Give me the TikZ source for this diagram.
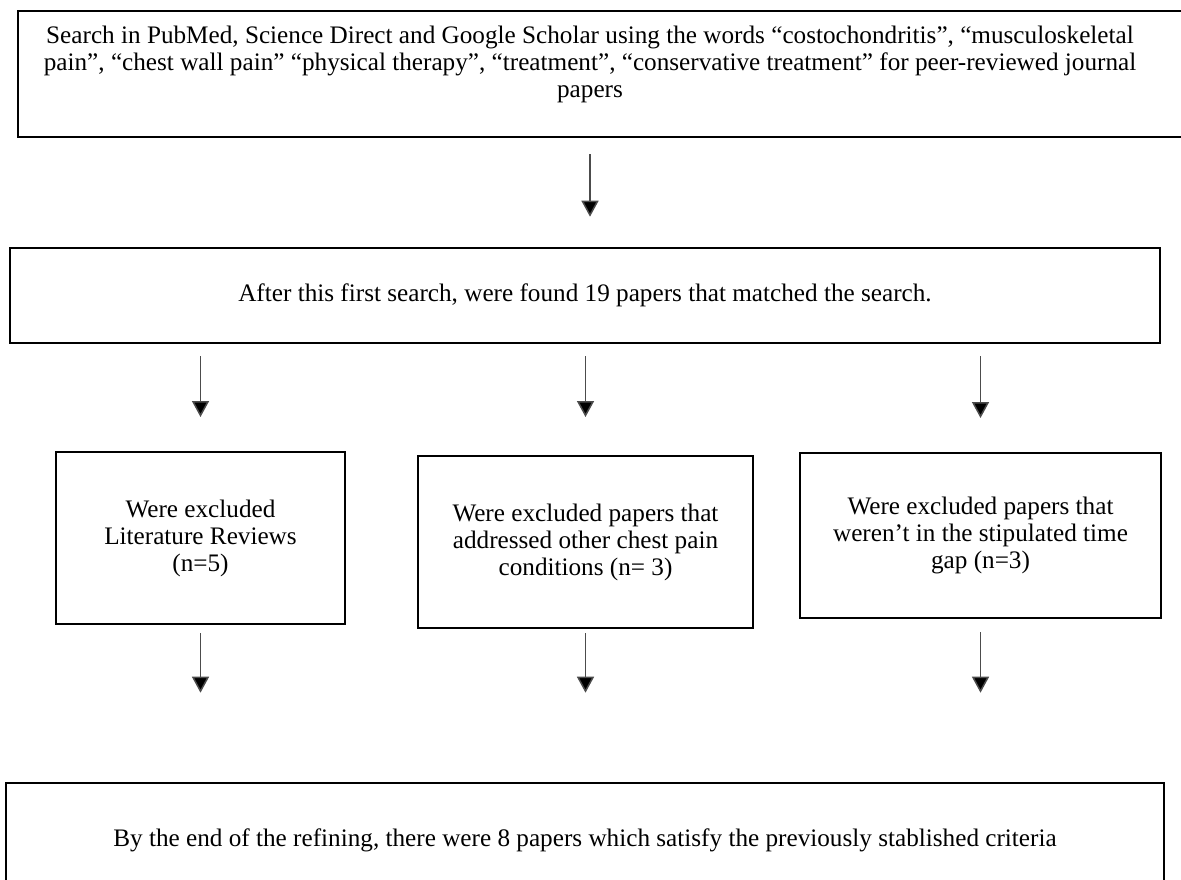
\documentclass[tikz,border=0pt]{standalone}
\usepackage{fontspec}
\setmainfont{Liberation Serif}
\usetikzlibrary{arrows.meta}

\tikzset{
  frame/.style={draw, line width=1.3pt, inner sep=0pt},
  stage/.style={draw, line width=1pt, align=center, inner sep=0pt},
  flow/.style={draw=black!70, line width=0.75pt,
    -{Triangle[width=8.5pt,length=8pt,fill=black]}},
}

\begin{document}
\begin{tikzpicture}[x=0.5pt, y=-0.5pt,
    every node/.style={font=\fontsize{12.6pt}{13.5pt}\selectfont}]
  \useasboundingbox (0,0) rectangle (1181,879);
  \clip (0,0) rectangle (1181,879);

  % search
  \node[frame, minimum width=601pt, minimum height=63pt] (searchbox) at (619,74) {};
  \node[align=center] (search) at (590,64.5)
    {Search in PubMed, Science Direct and Google Scholar using the words “costochondritis”, “musculoskeletal\\
     pain”, “chest wall pain” “physical therapy”, “treatment”, “conservative treatment” for peer-reviewed journal\\
     papers};

  % first result
  \node[stage, line width=1.3pt, minimum width=575pt, minimum height=47.5pt] (found) at (585,295.5)
    {After this first search, were found 19 papers that matched the search.};

  % exclusions
  \node[stage, minimum width=144.5pt, minimum height=86pt] (lexc) at (200.5,538)
    {Were excluded\\ Literature Reviews\\ (n=5)};
  \node[stage, minimum width=167.5pt, minimum height=86pt] (mexc) at (585.5,542)
    {Were excluded papers that\\ addressed other chest pain\\ conditions (n= 3)};
  \node[stage, minimum width=180.5pt, minimum height=82.5pt] (rexc) at (980.5,535.5)
    {Were excluded papers that\\ weren’t in the stipulated time\\ gap (n=3)};

  % final
  \node[stage, line width=1.3pt, minimum width=579pt, minimum height=57pt] (final) at (585,840)
    {By the end of the refining, there were 8 papers which satisfy the previously stablished criteria};

  % arrows
  \draw[flow, shorten <=8pt, shorten >=15pt] (search |- searchbox.south) -- (search |- found.north);

  \draw[flow, shorten <=6pt, shorten >=17pt] (lexc.north |- found.south) -- (lexc.north);
  \draw[flow, shorten <=6pt, shorten >=19pt] (mexc.north |- found.south) -- (mexc.north);
  \draw[flow, shorten <=6pt, shorten >=17pt] (rexc.north |- found.south) -- (rexc.north);

  \draw[flow, shorten <=4pt, shorten >=44.5pt] (lexc.south) -- (lexc.south |- final.north);
  \draw[flow, shorten <=2pt, shorten >=44.5pt] (mexc.south) -- (mexc.south |- final.north);
  \draw[flow, shorten <=6.5pt, shorten >=44.5pt] (rexc.south) -- (rexc.south |- final.north);
\end{tikzpicture}
\end{document}
